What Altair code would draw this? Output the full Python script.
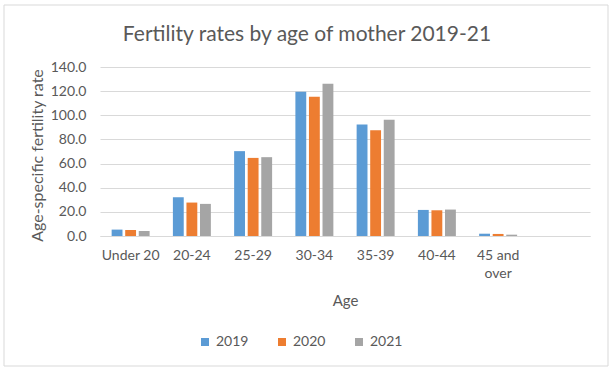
import altair as alt
import pandas as pd

ages = ["Under 20", "20-24", "25-29", "30-34", "35-39", "40-44", "45 and over"]
years = ["2019", "2020", "2021"]
rate_2019 = [5.3, 32.1, 70.3, 119.5, 92.4, 21.6, 1.9]
rate_2020 = [5.0, 27.7, 64.7, 115.4, 87.7, 21.3, 1.7]
rate_2021 = [4.1, 26.6, 65.3, 126.1, 96.3, 21.9, 1.1]
colors = ["#5B9BD5", "#ED7D31", "#A5A5A5"]
y_ticks = [0, 20, 40, 60, 80, 100, 120, 140]
x_domain = ages + [" "]

rows = []
for yr, vals in zip(years, [rate_2019, rate_2020, rate_2021]):
    for a, v in zip(ages, vals):
        rows.append({"Age": a, "Year": yr, "Rate": v})
df = pd.DataFrame(rows)

FONT = "Lato"
TXT = "#595959"
GRID = "#d9d9d9"

bars = alt.Chart(df).mark_bar().encode(
    x=alt.X("Age:N", sort=x_domain,
            scale=alt.Scale(domain=x_domain, paddingInner=0.38, paddingOuter=0.19),
            axis=alt.Axis(title="Age", labelAngle=0, labelPadding=12,
                          labelExpr="datum.label == '45 and over' ? ['45 and', 'over'] : datum.label",
                          labelLineHeight=18, labelFontSize=14, ticks=False,
                          domainColor=GRID, titleFontSize=15, titleFontWeight="normal",
                          titleX=245, titleY=64, titleBaseline="middle")),
    xOffset=alt.XOffset("Year:N", scale=alt.Scale(paddingInner=0.2, paddingOuter=0)),
    y=alt.Y("Rate:Q", scale=alt.Scale(domain=[0, 140], nice=False),
            axis=alt.Axis(title="Age-specific fertility rate", values=y_ticks, format=".1f",
                          labelPadding=14, labelFontSize=14, ticks=False, domain=False,
                          gridColor=GRID, titleFontSize=16, titleFontWeight="normal",
                          titleAngle=270, titleX=-63, titleY=88, titleAlign="center",
                          titleBaseline="middle")),
    color=alt.Color("Year:N", scale=alt.Scale(domain=years, range=colors),
                    legend=alt.Legend(title=None, orient="none", direction="horizontal",
                                      legendX=98, legendY=268, symbolType="square",
                                      symbolSize=64, symbolStrokeWidth=0, labelFontSize=14,
                                      columnPadding=26, labelOffset=4)),
)

border = alt.Chart(alt.Data(values=[{}])).mark_rect(
    fill="transparent", stroke=GRID, strokeWidth=1
).encode(
    x=alt.value(-96), x2=alt.value(508), y=alt.value(-62), y2=alt.value(299)
)

chart = alt.layer(border, bars).properties(
    width=490, height=169,
    autosize=alt.AutoSizeParams(type="none"),
    padding={"left": 100, "top": 67, "right": 24, "bottom": 139},
    title=alt.Title("Fertility rates by age of mother 2019-21", anchor="middle",
                    frame="group", dx=-38, offset=-40, fontSize=21,
                    fontWeight="normal", color=TXT, font=FONT),
    background="white",
).configure_axis(
    labelFont=FONT, titleFont=FONT, labelColor=TXT, titleColor=TXT
).configure_legend(
    labelFont=FONT, labelColor=TXT
).configure_view(strokeWidth=0)

chart.save("out.html", embed_options={"renderer": "svg", "actions": False})
